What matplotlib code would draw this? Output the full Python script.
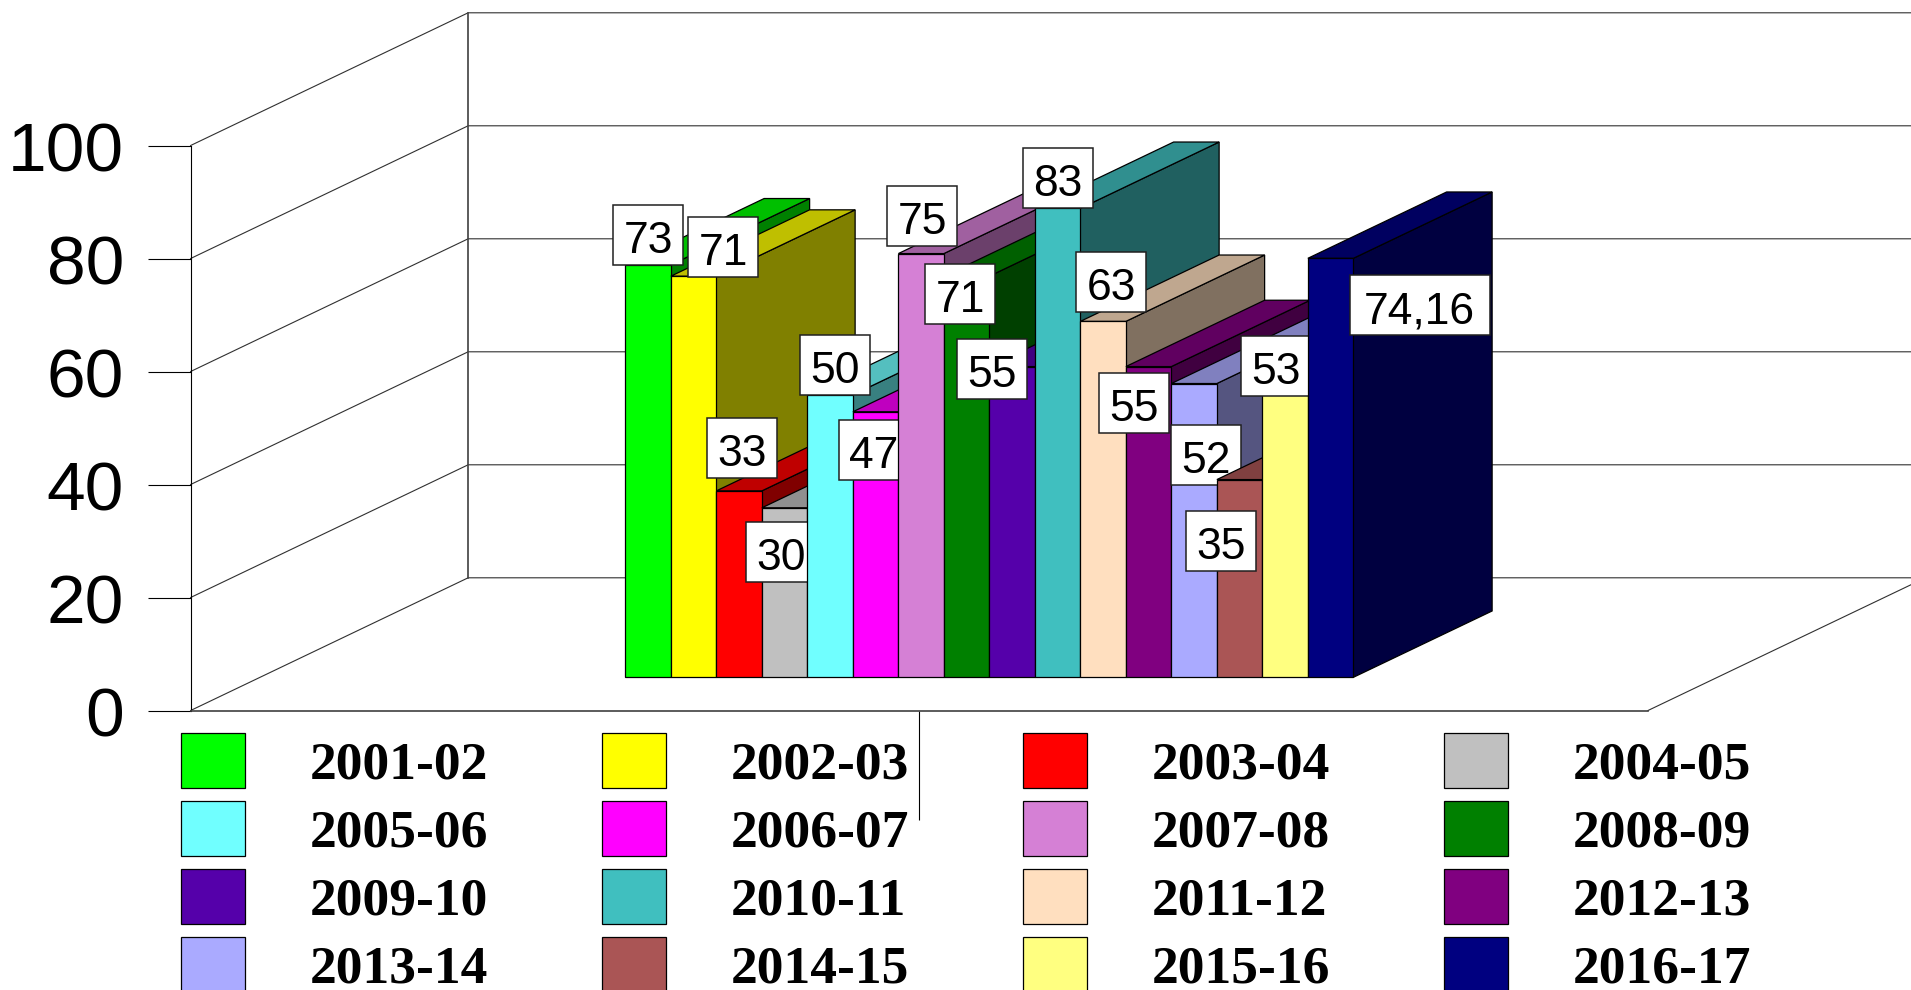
import matplotlib
matplotlib.use('Agg')
import matplotlib.pyplot as plt
from matplotlib.patches import Patch, Polygon, Rectangle
from matplotlib.transforms import ScaledTranslation

# Data
seasons = ['2001-02', '2002-03', '2003-04', '2004-05', '2005-06', '2006-07',
           '2007-08', '2008-09', '2009-10', '2010-11', '2011-12', '2012-13',
           '2013-14', '2014-15', '2015-16', '2016-17']
values = [73, 71, 33, 30, 50, 47, 75, 71, 55, 83, 63, 55, 52, 35, 53, 74.16]
value_labels = ['73', '71', '33', '30', '50', '47', '75', '71', '55', '83',
                '63', '55', '52', '35', '53', '74,16']
colors = ['#00FF00', '#FFFF00', '#FF0000', '#C0C0C0', '#70FFFF', '#FF00FF',
          '#D580D5', '#008000', '#5500AA', '#40BFBF', '#FFDFBF', '#800080',
          '#AAAAFF', '#AA5555', '#FFFF80', '#000080']
y_ticks = [0, 20, 40, 60, 80, 100]

# Hand placed label boxes: shift from bar top centre, in pixels
label_dx = [0, 29.5, 3, -3.5, 4.5, -1.5, 1, -6.5, -20, 0, 8, -14.5, 11.5, -19, -9, 89]
label_dy = [-30, -29, -43, 44, -30, 38, -37.5, 18, 2, -30, -39, 36, 71.5, 61, -12, 47]

# Scale of the chart: one x unit is a bar width, one y unit is a percent
PX_X = 45.5
PX_Y = 5.65
FLOOR_LEFT = -8.03
FLOOR_RIGHT = 24
DEPTH_X = 277.5 / PX_X
DEPTH_Y = 132.7 / PX_Y
BAR_FRONT = 0.25
BAR_BACK = 0.75


def project(x, v, depth):
    '''
    Oblique projection of a point at some depth of the floor
    '''
    return (x + depth * DEPTH_X, v + depth * DEPTH_Y)


def shade(color, factor):
    '''
    Darken a colour for the top and the side of a bar
    '''
    r, g, b = matplotlib.colors.to_rgb(color)
    return (r * factor, g * factor, b * factor)


fig = plt.figure(figsize=(19.11, 9.9), dpi=100)
ax = fig.add_axes([0, 0, 1, 1])
ax.set_xlim(-556 / PX_X, (1911 - 556) / PX_X)
ax.set_ylim((710.5 - 990) / PX_Y, 710.5 / PX_Y)
ax.patch.set_visible(False)

# Axes lines
for side in ['top', 'right']:
    ax.spines[side].set_visible(False)
ax.spines['left'].set_position(('data', FLOOR_LEFT))
ax.spines['left'].set_bounds(0, 100)
ax.spines['bottom'].set_position(('data', 0))
ax.spines['bottom'].set_bounds(FLOOR_LEFT, FLOOR_RIGHT)
ax.spines['bottom'].set_color('#404040')
ax.spines['bottom'].set_linewidth(1.2)
ax.set_yticks(y_ticks)
ax.set_yticklabels([str(t) for t in y_ticks], family='Liberation Sans', fontsize=50)
ax.tick_params(axis='y', length=31, width=0.8, pad=17)
# the numbers sit a little under their ticks
for lbl in ax.get_yticklabels():
    lbl.set_transform(lbl.get_transform() + ScaledTranslation(0, -0.5 / 72, fig.dpi_scale_trans))
ax.set_xticks([(FLOOR_LEFT + FLOOR_RIGHT) / 2])
ax.set_xticklabels([''])
ax.tick_params(axis='x', length=78.5, width=0.8)

# Walls and floor
grid = dict(color='#303030', linewidth=0.8, zorder=1, clip_on=True)
for t in y_ticks:
    x0, y0 = project(FLOOR_LEFT, t, 0)
    x1, y1 = project(FLOOR_LEFT, t, 1)
    x2, y2 = project(FLOOR_RIGHT, t, 1)
    ax.plot([x0, x1, x2], [y0, y1, y2], **grid)
x0, y0 = project(FLOOR_LEFT, 0, 1)
x1, y1 = project(FLOOR_LEFT, 100, 1)
ax.plot([x0, x1], [y0, y1], color='#404040', linewidth=1.2, zorder=1)
x0, y0 = project(FLOOR_RIGHT, 0, 0)
x1, y1 = project(FLOOR_RIGHT, 0, 1)
ax.plot([x0, x1], [y0, y1], **grid)

# Bars, each one with its label, from left to right so the later ones hide the earlier
for i, (val, txt, col) in enumerate(zip(values, value_labels, colors)):
    z = 3 + 2 * i
    edge = dict(edgecolor='black', linewidth=0.9, zorder=z)
    fx, fy = project(i, 0, BAR_FRONT)
    ax.add_patch(Polygon([project(i + 1, 0, BAR_FRONT), project(i + 1, 0, BAR_BACK),
                          project(i + 1, val, BAR_BACK), project(i + 1, val, BAR_FRONT)],
                         facecolor=shade(col, 0.5), **edge))
    ax.add_patch(Polygon([project(i, val, BAR_FRONT), project(i, val, BAR_BACK),
                          project(i + 1, val, BAR_BACK), project(i + 1, val, BAR_FRONT)],
                         facecolor=shade(col, 0.75), **edge))
    ax.bar(fx, val, width=1, bottom=fy, align='edge', color=col, **edge)
    # Label box
    cx = fx + 0.5 + label_dx[i] / PX_X
    cy = fy + val - label_dy[i] / PX_Y
    w = (70 if len(txt) < 3 else 140) / PX_X
    h = 60 / PX_Y
    ax.add_patch(Rectangle((cx - w / 2, cy - h / 2), w, h, facecolor='white',
                           edgecolor='#202020', linewidth=1.1, zorder=z + 1))
    ax.text(cx, cy - 6.5 / PX_Y, txt, ha='center', va='center', family='Liberation Sans',
            fontsize=32, zorder=z + 1.5)

# Legend, filled row by row like the original
n_cols = 4
order = [k for c in range(n_cols) for k in range(c, len(seasons), n_cols)]
handles = [Patch(facecolor=colors[k], edgecolor='black', linewidth=0.9) for k in order]
fig.legend(
    handles,
    [seasons[k] for k in order],
    ncols=n_cols,
    loc='upper left',
    bbox_to_anchor=(181 / 1911, 1 - 732.7 / 990),
    frameon=False,
    borderpad=0,
    borderaxespad=0,
    handlelength=1.196,
    handleheight=1.204,
    handletextpad=1.215,
    labelspacing=0.215,
    columnspacing=2.125,
    prop={'family': 'Liberation Serif', 'weight': 'bold', 'size': 38.5},
)

fig.savefig('out.png', dpi=100)
